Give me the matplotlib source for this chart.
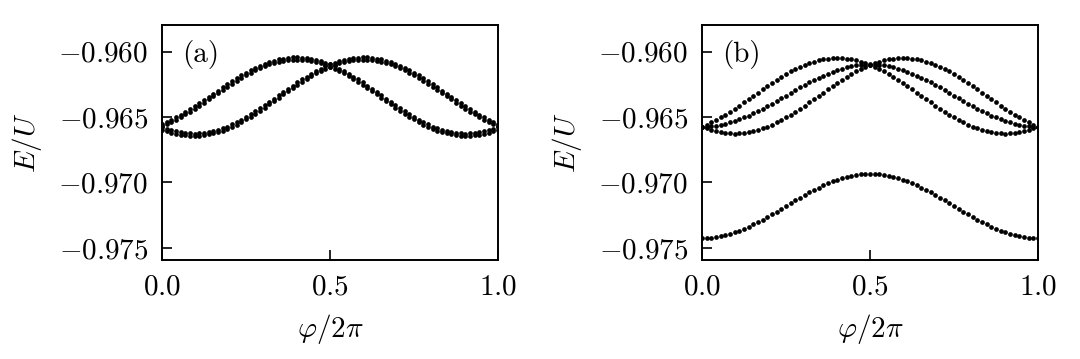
"""Band energies E/U vs flux phi/2pi, two panels (a) and (b).
Output: out.png
"""
import matplotlib
matplotlib.use("Agg")
import matplotlib.pyplot as plt
import numpy as np
from matplotlib.ticker import FixedLocator, FuncFormatter

plt.rcParams["font.family"] = "serif"
plt.rcParams["font.serif"] = ["cmr10", "DejaVu Serif"]
plt.rcParams["mathtext.fontset"] = "cm"
plt.rcParams["axes.formatter.use_mathtext"] = True

# flux grid (73 samples over one period)
phi = np.linspace(0.0, 1.0, 73)

# panel (a): two nearly degenerate pairs
e_a_left1 = [
    -0.96552, -0.96537, -0.96520, -0.96502, -0.96483, -0.96462, -0.96440, -0.96418, -0.96395, -0.96371,
    -0.96346, -0.96322, -0.96297, -0.96273, -0.96249, -0.96226, -0.96203, -0.96181, -0.96161, -0.96141,
    -0.96123, -0.96107, -0.96092, -0.96079, -0.96068, -0.96059, -0.96052, -0.96047, -0.96044, -0.96043,
    -0.96045, -0.96048, -0.96054, -0.96062, -0.96072, -0.96083, -0.96097, -0.96113, -0.96130, -0.96148,
    -0.96168, -0.96190, -0.96212, -0.96235, -0.96260, -0.96284, -0.96309, -0.96334, -0.96359, -0.96385,
    -0.96409, -0.96433, -0.96456, -0.96479, -0.96500, -0.96520, -0.96539, -0.96556, -0.96572, -0.96585,
    -0.96597, -0.96607, -0.96615, -0.96621, -0.96624, -0.96626, -0.96625, -0.96622, -0.96617, -0.96610,
    -0.96601, -0.96589, -0.96577]
e_a_left2 = [
    -0.96570, -0.96555, -0.96538, -0.96520, -0.96501, -0.96480, -0.96458, -0.96436, -0.96413, -0.96389,
    -0.96364, -0.96340, -0.96315, -0.96291, -0.96267, -0.96244, -0.96221, -0.96199, -0.96179, -0.96159,
    -0.96141, -0.96125, -0.96110, -0.96097, -0.96086, -0.96077, -0.96070, -0.96065, -0.96062, -0.96061,
    -0.96063, -0.96066, -0.96072, -0.96080, -0.96090, -0.96101, -0.96115, -0.96131, -0.96148, -0.96166,
    -0.96186, -0.96208, -0.96230, -0.96253, -0.96278, -0.96302, -0.96327, -0.96352, -0.96377, -0.96403,
    -0.96427, -0.96451, -0.96474, -0.96497, -0.96518, -0.96538, -0.96557, -0.96574, -0.96590, -0.96603,
    -0.96615, -0.96625, -0.96633, -0.96639, -0.96642, -0.96644, -0.96643, -0.96640, -0.96635, -0.96628,
    -0.96619, -0.96607, -0.96595]
e_a_right1 = [
    -0.96577, -0.96589, -0.96601, -0.96610, -0.96617, -0.96622, -0.96625, -0.96626, -0.96624, -0.96621,
    -0.96615, -0.96607, -0.96597, -0.96585, -0.96572, -0.96556, -0.96539, -0.96520, -0.96500, -0.96479,
    -0.96456, -0.96433, -0.96409, -0.96385, -0.96359, -0.96334, -0.96309, -0.96284, -0.96260, -0.96235,
    -0.96212, -0.96190, -0.96168, -0.96148, -0.96130, -0.96113, -0.96097, -0.96083, -0.96072, -0.96062,
    -0.96054, -0.96048, -0.96045, -0.96043, -0.96044, -0.96047, -0.96052, -0.96059, -0.96068, -0.96079,
    -0.96092, -0.96107, -0.96123, -0.96141, -0.96161, -0.96181, -0.96203, -0.96226, -0.96249, -0.96273,
    -0.96297, -0.96322, -0.96346, -0.96371, -0.96395, -0.96418, -0.96440, -0.96462, -0.96483, -0.96502,
    -0.96520, -0.96537, -0.96552]
e_a_right2 = [
    -0.96595, -0.96607, -0.96619, -0.96628, -0.96635, -0.96640, -0.96643, -0.96644, -0.96642, -0.96639,
    -0.96633, -0.96625, -0.96615, -0.96603, -0.96590, -0.96574, -0.96557, -0.96538, -0.96518, -0.96497,
    -0.96474, -0.96451, -0.96427, -0.96403, -0.96377, -0.96352, -0.96327, -0.96302, -0.96278, -0.96253,
    -0.96230, -0.96208, -0.96186, -0.96166, -0.96148, -0.96131, -0.96115, -0.96101, -0.96090, -0.96080,
    -0.96072, -0.96066, -0.96063, -0.96061, -0.96062, -0.96065, -0.96070, -0.96077, -0.96086, -0.96097,
    -0.96110, -0.96125, -0.96141, -0.96159, -0.96179, -0.96199, -0.96221, -0.96244, -0.96267, -0.96291,
    -0.96315, -0.96340, -0.96364, -0.96389, -0.96413, -0.96436, -0.96458, -0.96480, -0.96501, -0.96520,
    -0.96538, -0.96555, -0.96570]

# panel (b): split bands
e_b_left = [
    -0.96574, -0.96558, -0.96541, -0.96523, -0.96503, -0.96482, -0.96459, -0.96436, -0.96412, -0.96387,
    -0.96362, -0.96337, -0.96312, -0.96287, -0.96262, -0.96238, -0.96215, -0.96193, -0.96171, -0.96151,
    -0.96133, -0.96116, -0.96100, -0.96087, -0.96075, -0.96065, -0.96058, -0.96052, -0.96049, -0.96048,
    -0.96049, -0.96052, -0.96058, -0.96065, -0.96075, -0.96087, -0.96100, -0.96116, -0.96133, -0.96151,
    -0.96171, -0.96193, -0.96215, -0.96238, -0.96262, -0.96287, -0.96312, -0.96337, -0.96362, -0.96387,
    -0.96412, -0.96436, -0.96459, -0.96482, -0.96503, -0.96523, -0.96541, -0.96558, -0.96574, -0.96587,
    -0.96599, -0.96609, -0.96616, -0.96622, -0.96625, -0.96626, -0.96625, -0.96622, -0.96616, -0.96609,
    -0.96599, -0.96587, -0.96574]
e_b_right = [
    -0.96574, -0.96587, -0.96599, -0.96609, -0.96616, -0.96622, -0.96625, -0.96626, -0.96625, -0.96622,
    -0.96616, -0.96609, -0.96599, -0.96587, -0.96574, -0.96558, -0.96541, -0.96523, -0.96503, -0.96482,
    -0.96459, -0.96436, -0.96412, -0.96387, -0.96362, -0.96337, -0.96312, -0.96287, -0.96262, -0.96238,
    -0.96215, -0.96193, -0.96171, -0.96151, -0.96133, -0.96116, -0.96100, -0.96087, -0.96075, -0.96065,
    -0.96058, -0.96052, -0.96049, -0.96048, -0.96049, -0.96052, -0.96058, -0.96065, -0.96075, -0.96087,
    -0.96100, -0.96116, -0.96133, -0.96151, -0.96171, -0.96193, -0.96215, -0.96238, -0.96262, -0.96287,
    -0.96312, -0.96337, -0.96362, -0.96387, -0.96412, -0.96436, -0.96459, -0.96482, -0.96503, -0.96523,
    -0.96541, -0.96558, -0.96574]
e_b_mid = [
    -0.96573, -0.96572, -0.96569, -0.96565, -0.96559, -0.96551, -0.96541, -0.96530, -0.96517, -0.96503,
    -0.96488, -0.96472, -0.96454, -0.96436, -0.96416, -0.96397, -0.96376, -0.96356, -0.96335, -0.96314,
    -0.96294, -0.96273, -0.96254, -0.96234, -0.96216, -0.96199, -0.96182, -0.96167, -0.96153, -0.96140,
    -0.96129, -0.96119, -0.96111, -0.96105, -0.96101, -0.96098, -0.96097, -0.96098, -0.96101, -0.96105,
    -0.96111, -0.96119, -0.96129, -0.96140, -0.96153, -0.96167, -0.96182, -0.96199, -0.96216, -0.96234,
    -0.96254, -0.96273, -0.96294, -0.96314, -0.96335, -0.96356, -0.96376, -0.96397, -0.96416, -0.96436,
    -0.96454, -0.96472, -0.96488, -0.96503, -0.96517, -0.96530, -0.96541, -0.96551, -0.96559, -0.96565,
    -0.96569, -0.96572, -0.96573]
e_b_low = [
    -0.97426, -0.97425, -0.97422, -0.97418, -0.97411, -0.97403, -0.97393, -0.97382, -0.97368, -0.97354,
    -0.97338, -0.97321, -0.97303, -0.97284, -0.97264, -0.97244, -0.97223, -0.97201, -0.97180, -0.97159,
    -0.97137, -0.97116, -0.97096, -0.97076, -0.97057, -0.97039, -0.97022, -0.97006, -0.96992, -0.96979,
    -0.96967, -0.96957, -0.96949, -0.96942, -0.96938, -0.96935, -0.96934, -0.96935, -0.96938, -0.96942,
    -0.96949, -0.96957, -0.96967, -0.96979, -0.96992, -0.97006, -0.97022, -0.97039, -0.97057, -0.97076,
    -0.97096, -0.97116, -0.97137, -0.97159, -0.97180, -0.97201, -0.97223, -0.97244, -0.97264, -0.97284,
    -0.97303, -0.97321, -0.97338, -0.97354, -0.97368, -0.97382, -0.97393, -0.97403, -0.97411, -0.97418,
    -0.97422, -0.97425, -0.97426]

panels = [
    ("(a)", [e_a_left1, e_a_left2, e_a_right1, e_a_right2]),
    ("(b)", [e_b_left, e_b_right, e_b_mid, e_b_low]),
]
yticks = [-0.975, -0.970, -0.965, -0.960]
xticks = [0.0, 0.5, 1.0]

fig = plt.figure(figsize=(10.8, 3.59), dpi=100)
lefts = [0.150, 0.650]
FS = 21

for left, (tag, bands) in zip(lefts, panels):
    ax = fig.add_axes([left, 0.276, 0.311, 0.655])
    for e in bands:
        ax.plot(phi, e, linestyle="none", marker="o", markersize=3.4,
                color="black", markeredgewidth=0)
    ax.set_xlim(0, 1)
    ax.set_ylim(-0.97592, -0.95794)
    ax.xaxis.set_major_locator(FixedLocator(xticks))
    ax.yaxis.set_major_locator(FixedLocator(yticks))
    ax.xaxis.set_major_formatter(FuncFormatter(lambda v, p: f"${v:.1f}$"))
    ax.yaxis.set_major_formatter(FuncFormatter(lambda v, p: f"${v:.3f}$"))
    ax.tick_params(direction="in", length=7, width=1.2, labelsize=FS, pad=10,
                   top=False, right=False)
    for s in ax.spines.values():
        s.set_linewidth(1.4)
    ax.set_xlabel(r"$\varphi/2\pi$", fontsize=FS)
    ax.set_ylabel(r"$E/U$", fontsize=FS)
    ax.xaxis.set_label_coords(0.5, -0.22)
    ax.yaxis.set_label_coords(-0.35, 0.5)
    ax.text(0.06, 0.875, tag, transform=ax.transAxes, fontsize=FS,
            va="center", ha="left")

fig.savefig("out.png", dpi=100)
